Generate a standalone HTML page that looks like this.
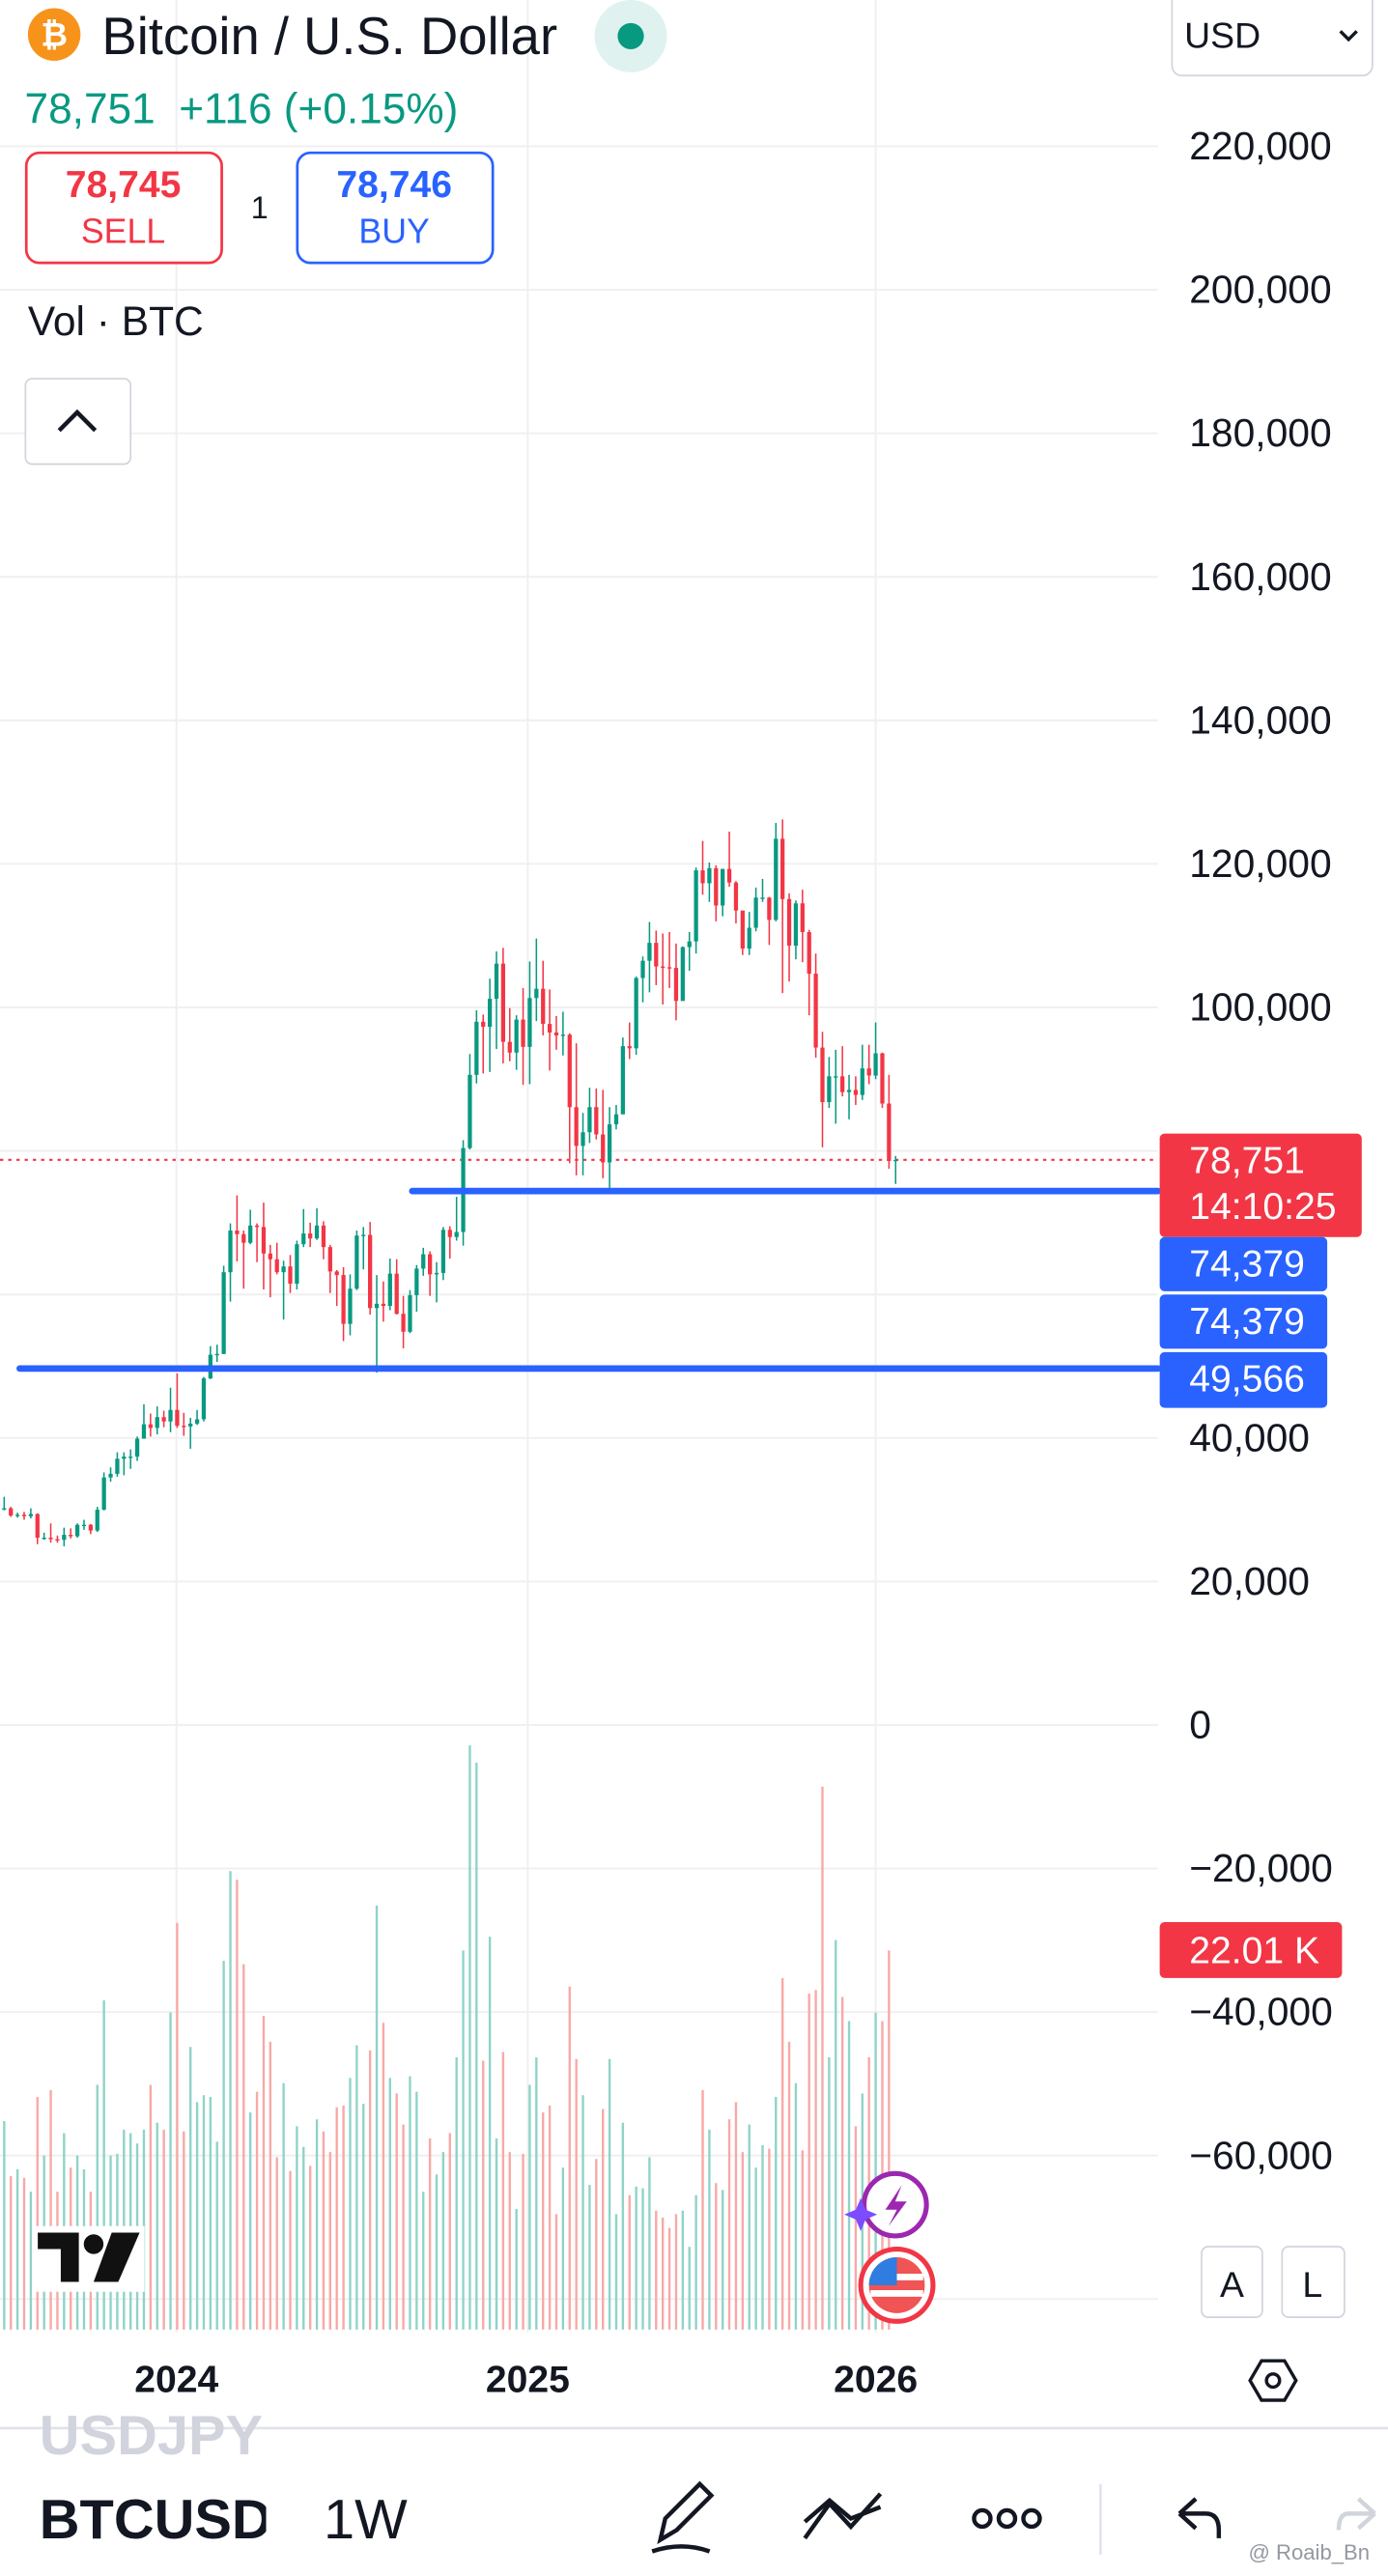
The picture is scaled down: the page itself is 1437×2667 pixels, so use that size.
<!DOCTYPE html>
<html><head><meta charset="utf-8"><style>
html,body{margin:0;padding:0;background:#fff;}
svg{display:block;font-family:"Liberation Sans",sans-serif;}
</style></head><body>
<svg id="root" width="1437" height="2667" viewBox="0 0 845 1568" preserveAspectRatio="none" xmlns="http://www.w3.org/2000/svg">
<rect x="0" y="0" width="845" height="1568" fill="#fff"/>
<g id="grid"></g>
<g id="vol"></g>
<line x1="0" y1="706" x2="705" y2="706" stroke="#f23645" stroke-width="1.2" stroke-dasharray="2,3"/>
<g id="candles"></g>
<line x1="251" y1="725" x2="705" y2="725" stroke="#2962ff" stroke-width="4" stroke-linecap="round"/>
<line x1="12" y1="833" x2="705" y2="833" stroke="#2962ff" stroke-width="4" stroke-linecap="round"/>
<g id="yaxis" font-size="24" fill="#131722"></g>
<g>
<rect x="706" y="690" width="123" height="63" rx="3" fill="#f23645"/>
<text x="724" y="714" font-size="23" fill="#fff">78,751</text>
<text x="724" y="742" font-size="23" fill="#fff">14:10:25</text></g>
<g><rect x="706" y="753" width="102" height="33" rx="3" fill="#2962ff"/><text x="724" y="777" font-size="23" fill="#fff">74,379</text></g>
<g><rect x="706" y="788" width="102" height="33" rx="3" fill="#2962ff"/><text x="724" y="812" font-size="23" fill="#fff">74,379</text></g>
<g><rect x="706" y="823" width="102" height="34" rx="3" fill="#2962ff"/><text x="724" y="847" font-size="23" fill="#fff">49,566</text></g>
<g><rect x="706" y="1170" width="111" height="34" rx="3" fill="#f23645"/><text x="724" y="1195" font-size="23" fill="#fff">22.01 K</text></g>
<!-- header -->
<circle cx="33" cy="21" r="16" fill="#f7931a"/>
<text x="33" y="28" font-size="20" font-weight="bold" fill="#fff" text-anchor="middle">₿</text>
<text x="62" y="33" font-size="32" fill="#131722">Bitcoin / U.S. Dollar</text>
<circle cx="384" cy="22" r="22" fill="#dff2ef"/>
<circle cx="384" cy="22" r="8" fill="#089981"/>
<text x="15" y="75" font-size="26" fill="#089981" xml:space="preserve">78,751  +116 (+0.15%)</text>
<g>
<rect x="16" y="93" width="119" height="67" rx="8" fill="#fff" stroke="#f23645" stroke-width="1.6"/>
<text x="75" y="120" font-size="23" font-weight="bold" fill="#f23645" text-anchor="middle">78,745</text>
<text x="75" y="148" font-size="21" fill="#f23645" text-anchor="middle">SELL</text></g>
<text x="158" y="133" font-size="19" fill="#131722" text-anchor="middle">1</text>
<g>
<rect x="181" y="93" width="119" height="67" rx="8" fill="#fff" stroke="#2962ff" stroke-width="1.6"/>
<text x="240" y="120" font-size="23" font-weight="bold" fill="#2962ff" text-anchor="middle">78,746</text>
<text x="240" y="148" font-size="21" fill="#2962ff" text-anchor="middle">BUY</text></g>
<text x="17" y="204" font-size="25" fill="#131722">Vol · BTC</text>
<g>
<rect x="15.5" y="230.5" width="64" height="52" rx="4" fill="#fff" stroke="#d1d4dc"/>
<polyline points="36,262 47,251 58,262" fill="none" stroke="#131722" stroke-width="2.6"/></g>
<g>
<rect x="713.5" y="-6" width="122" height="52" rx="6" fill="#fff" stroke="#d1d4dc"/>
<text x="721" y="29" font-size="22" fill="#131722">USD</text>
<polyline points="816,19 821,24 826,19" fill="none" stroke="#131722" stroke-width="2"/></g>
<!-- logo & icons -->
<g>
<rect x="20" y="1355" width="68" height="40" fill="#fff"/>
<path d="M23 1359 H48 V1389 H37 V1369 H23 Z" fill="#111"/>
<circle cx="57" cy="1366" r="6" fill="#111"/>
<path d="M68 1359 H85 L72 1389 H57 Z" fill="#111"/></g>
<g>
<circle cx="545" cy="1342" r="19" fill="#fff" stroke="#9c27b0" stroke-width="3"/>
<path d="M549 1330 L539 1345 H546 L541 1355 L552 1340 H545 Z" fill="#9c27b0"/>
<path d="M524 1338 L527 1345 L534 1348 L527 1351 L524 1358 L521 1351 L514 1348 L521 1345 Z" fill="#7c4dff"/></g>
<g>
<circle cx="546" cy="1391" r="22" fill="#fff" stroke="#f23645" stroke-width="3"/>
<circle cx="546" cy="1391" r="17" fill="#f05454"/>
<rect x="530" y="1384" width="32" height="4" fill="#fff"/>
<rect x="530" y="1394" width="32" height="4" fill="#fff"/>
<path d="M546 1374 A17 17 0 0 0 529 1391 H546 Z" fill="#2f7de1"/></g>
<g><rect x="731.5" y="1367.5" width="37" height="43" rx="4" fill="#fff" stroke="#d1d4dc"/><text x="750" y="1398" font-size="22" text-anchor="middle" fill="#131722">A</text></g>
<g><rect x="780.5" y="1367.5" width="38" height="43" rx="4" fill="#fff" stroke="#d1d4dc"/><text x="799" y="1398" font-size="22" text-anchor="middle" fill="#131722">L</text></g>
<g id="xaxis" font-size="23" font-weight="bold" fill="#131722" text-anchor="middle"></g>
<polygon points="768,1437 782,1437 789,1449 782,1461 768,1461 761,1449" fill="none" stroke="#131722" stroke-width="2"/>
<circle cx="775" cy="1449" r="4" fill="none" stroke="#131722" stroke-width="2"/>
<line x1="0" y1="1478" x2="845" y2="1478" stroke="#e0e3eb" stroke-width="1.5"/>
<!-- bottom toolbar -->
<text x="24" y="1494" font-size="34" font-weight="bold" fill="#d1d4dc">USDJPY</text>
<rect x="0" y="1496" width="845" height="72" fill="#fff"/>
<text x="24" y="1545" font-size="34" font-weight="bold" fill="#131722">BTCUSD</text>
<rect x="162" y="1510" width="22" height="40" fill="#fff"/>
<text x="197" y="1545" font-size="34" fill="#131722">1W</text>
<g fill="none" stroke="#131722" stroke-width="2.6">
<path d="M402 1546 L405 1533 L426 1512 L433 1519 L412 1540 Z"/><path d="M397 1553 Q415 1547 432 1553"/></g>
<g fill="none" stroke="#131722" stroke-width="2.6">
<path d="M490 1545 L505 1524 L518 1538 L536 1518"/><path d="M490 1535 L505 1522 L518 1533 L536 1526"/></g>
<g fill="none" stroke="#131722" stroke-width="2.6">
<circle cx="598" cy="1533" r="5"/><circle cx="613" cy="1533" r="5"/><circle cx="628" cy="1533" r="5"/></g>
<line x1="670" y1="1512" x2="670" y2="1555" stroke="#e0e3eb" stroke-width="1.5"/>
<path d="M718 1530 L728 1521 M718 1530 L728 1539 M718 1530 H734 Q742 1530 742 1540 V1545" fill="none" stroke="#131722" stroke-width="2.6"/>
<path d="M837 1530 L827 1521 M837 1530 L827 1539 M837 1530 H821 Q815 1530 815 1540" fill="none" stroke="#d1d4dc" stroke-width="2.6"/>
<text x="760" y="1558" font-size="13" fill="#9598a1">@ Roaib_Bn</text>
</svg>
<script>
const closes=[30.2,30.2,29.2,29.3,29.1,29.4,26.1,26.1,25.9,25.8,26.5,26.3,27.9,27.9,27.1,30.0,34.5,35.0,37.1,37.4,37.4,39.9,41.9,41.4,42.9,42.3,
43.9,41.7,41.6,42.0,42.6,48.3,51.6,51.7,63.1,68.9,68.4,67.2,69.6,69.4,65.7,64.9,63.1,63.9,61.5,67.0,68.5,67.8,69.6,66.6,63.2,62.7,55.9,60.8,68.2,68.3,58.1,58.7,58.4,62.9,57.3,54.8,59.9,63.6,65.6,62.8,63.0,69.0,68.0,68.7,80.4,90.6,98.0,97.3,101.2,106.1,95.2,93.7,98.3,
94.5,101.3,102.6,97.7,96.5,96.1,96.2,86.1,80.7,82.6,86.1,82.3,78.4,83.7,85.1,94.6,94.3,104.1,106.5,109.0,105.7,105.6,105.5,100.9,108.4,109.2,119.1,117.3,119.4,114.2,119.3,117.4,113.5,108.2,111.1,115.3,115.3,112.2,123.5,115.1,108.6,114.5,110.5,104.7,94.4,86.8,90.4,90.4,88.2,88.5,87.8,91.5,90.5,93.6,86.6,78.6,78.75];
const highs=[31.5,31.8,30.4,29.6,29.7,30.2,29.5,26.8,28.1,26.4,27.5,27.4,28.1,28.6,28.0,30.4,35.2,35.9,38.0,38.0,38.4,40.2,44.7,43.4,44.4,43.8,
47.0,49.0,43.5,42.8,43.9,48.5,52.8,53.0,64.0,69.9,73.8,68.9,71.8,69.9,72.8,66.9,67.2,64.7,65.5,67.5,71.9,70.0,72.0,70.2,66.9,63.4,63.8,62.8,68.9,69.4,70.1,62.7,61.8,65.0,64.9,59.8,60.6,64.1,66.5,66.0,64.5,69.4,69.5,73.6,81.5,93.5,99.6,99.0,104.0,107.8,108.3,99.9,98.9,
102.7,106.4,109.6,106.5,102.5,98.8,99.4,96.4,95.0,85.3,88.8,88.7,88.5,86.1,86.4,95.8,97.9,104.3,107.1,111.9,110.7,110.3,110.5,108.9,108.5,110.5,119.5,123.2,120.2,119.8,119.3,124.5,117.6,113.4,113.3,116.7,117.9,115.4,125.7,126.2,115.9,114.9,116.4,110.8,107.5,96.6,93.1,94.1,94.6,90.6,90.4,94.8,94.8,97.9,93.7,90.6,79.3];
const lows=[29.8,29.9,29.0,28.9,28.6,28.8,25.2,25.8,25.4,25.4,24.9,26.0,26.1,27.2,26.6,26.9,29.9,33.9,34.6,34.8,35.7,36.8,39.9,40.2,40.5,41.5,
40.8,41.4,40.3,38.5,41.8,42.3,48.2,50.6,51.7,59.0,64.6,60.8,67.0,64.5,60.7,59.6,62.8,56.5,60.2,60.7,66.6,66.6,67.6,64.9,60.2,58.4,53.5,54.3,60.6,63.5,57.2,49.1,56.2,57.8,57.2,52.5,54.6,57.6,62.6,59.8,58.9,62.0,65.0,67.5,66.8,80.2,89.4,90.8,91.0,94.2,92.2,92.5,91.3,
89.2,89.3,98.1,96.1,91.2,94.1,93.3,78.3,76.6,76.6,81.1,81.6,76.2,74.4,83.0,85.1,92.8,93.4,100.7,102.1,103.1,100.4,102.7,98.2,100.9,105.1,107.5,115.7,114.7,112.0,112.7,116.8,111.7,107.3,107.3,110.6,114.7,108.7,112.0,102.0,103.6,106.7,106.3,98.9,93.0,80.5,86.0,83.8,87.6,84.4,86.4,87.1,89.3,90.0,86.0,77.5,75.4];
const firstOpen=30.5;
const volumes=[9.8,12.1,8.9,9.3,8.8,8.0,13.5,10.1,13.9,8.0,11.4,9.4,10.1,9.3,8.0,14.2,19.1,10.1,10.2,11.6,11.4,10.8,11.6,14.2,12.0,11.6,18.4,23.6,11.5,16.4,13.2,13.6,13.5,10.9,21.4,26.6,26.1,21.2,12.6,13.8,18.2,16.7,10.0,14.3,9.2,11.8,10.6,9.5,12.2,11.5,10.3,12.9,13.0,14.6,16.5,13.1,16.2,24.6,17.8,14.6,13.7,11.9,14.7,13.8,8.0,11.1,9.0,10.3,11.4,15.8,22.0,33.9,32.9,15.6,22.8,11.1,16.1,10.3,7.0,10.2,14.2,15.8,12.6,13.0,6.7,9.4,19.9,15.7,13.6,8.4,9.9,12.8,15.7,6.7,12.0,7.8,8.3,8.2,10.0,6.9,6.5,5.9,6.7,6.9,4.8,7.8,13.9,11.6,8.5,8.1,12.2,13.2,10.3,11.9,9.4,10.7,10.5,13.5,20.4,16.7,14.3,10.4,19.5,19.7,31.5,15.8,22.6,19.3,17.9,11.8,13.7,15.8,18.4,17.9,22.0];
const priceTicks=[220000,200000,180000,160000,140000,120000,100000,40000,20000,0,-20000,-40000,-60000];
const gridPrices=[220000,200000,180000,160000,140000,120000,100000,80000,60000,40000,20000,0,-20000,-40000,-60000,-80000];
const yearLabels=["2024","2025","2026"];
const yearIndex=[26.9,79.7,132.0];

const NS="http://www.w3.org/2000/svg";
const X0=-1.5, STEP=4.05;
function xAt(i){return X0+i*STEP;}
function yPrice(p){return 1050-p/20000*87.36;}
function yVol(v){return 1418-v*10.49;}
function mk(tag,attrs,parent){const e=document.createElementNS(NS,tag);for(const k in attrs)e.setAttribute(k,attrs[k]);parent.appendChild(e);return e;}
const fmt=v=>(v<0?"\u2212":"")+Math.abs(v).toLocaleString("en-US");

const grid=document.getElementById("grid");
gridPrices.forEach(p=>{const l=mk("line",{x1:0,x2:705,y1:yPrice(p),y2:yPrice(p),stroke:"#f0f0f0","stroke-width":1.2},grid);

});
yearIndex.forEach(i=>{const l=mk("line",{x1:xAt(i),x2:xAt(i),y1:0,y2:1420,stroke:"#f0f0f0","stroke-width":1.2},grid);

});

const ya=document.getElementById("yaxis");
priceTicks.forEach(p=>{const t=mk("text",{x:724,y:yPrice(p)+8},ya);t.textContent=fmt(p);

});

const xa=document.getElementById("xaxis");
yearLabels.forEach((s,k)=>{const t=mk("text",{x:xAt(yearIndex[k]),y:1456},xa);t.textContent=s;

});

const cg=document.getElementById("candles"), vg=document.getElementById("vol");
let prev=firstOpen;
closes.forEach((c,i)=>{
  const o=prev, up=c>=o, col=up?"#089981":"#f23645", x=xAt(i);
  const g=mk("g",{},cg);
  
  
  mk("line",{x1:x,x2:x,y1:yPrice(highs[i]*1000),y2:yPrice(lows[i]*1000),stroke:col,"stroke-width":0.9},g);
  const top=yPrice(Math.max(o,c)*1000), bot=yPrice(Math.min(o,c)*1000);
  mk("rect",{x:x-1.25,y:top,width:2.5,height:Math.max(0.8,bot-top),fill:col},g);
  if(i<volumes.length){
    const vy=yVol(volumes[i]);
    const b=mk("rect",{x:x-0.7,y:vy,width:1.4,height:1418-vy,fill:up?"#8fd3c8":"#f7a9a7"},vg);
    
    
  }
  prev=c;
});
</script>
</body></html>
